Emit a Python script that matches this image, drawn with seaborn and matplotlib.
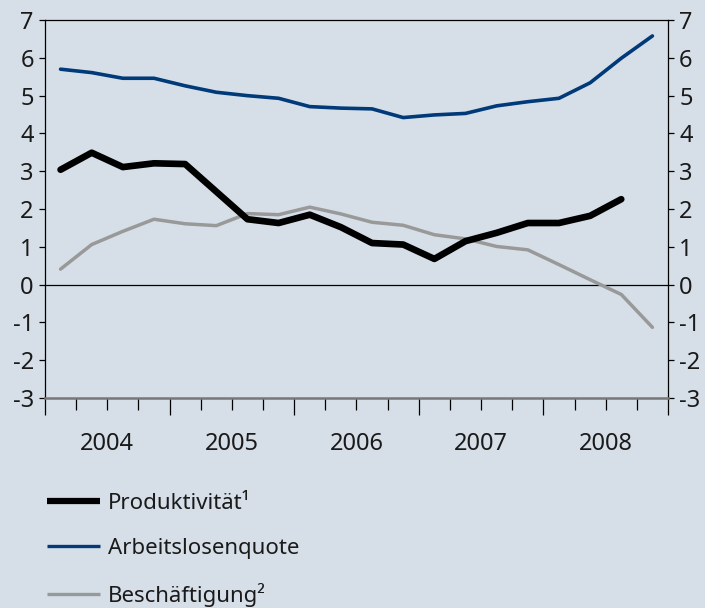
import numpy as np
import pandas as pd
import seaborn as sns
import matplotlib.pyplot as plt
from matplotlib.lines import Line2D
from matplotlib.ticker import MultipleLocator, NullFormatter

# Quarterly data 2004 Q1 - 2008 Q4
years = ['2004', '2005', '2006', '2007', '2008']
quarters = np.arange(20) + 0.5

arbeitslosenquote = [5.70, 5.61, 5.46, 5.46, 5.26, 5.09, 5.00, 4.93, 4.71, 4.67,
                     4.65, 4.42, 4.49, 4.53, 4.73, 4.84, 4.93, 5.34, 5.99, 6.58]
produktivitaet = [3.04, 3.49, 3.11, 3.21, 3.19, 2.46, 1.73, 1.63, 1.85, 1.52,
                  1.10, 1.06, 0.68, 1.15, 1.37, 1.63, 1.63, 1.82, 2.26, np.nan]
beschaeftigung = [0.41, 1.06, 1.41, 1.73, 1.61, 1.56, 1.88, 1.85, 2.05, 1.87,
                  1.65, 1.57, 1.32, 1.21, 1.01, 0.92, 0.53, 0.13, -0.26, -1.13]

bg = '#d6dfe8'
blue = '#003a78'
grey = '#999999'

sns.set_theme(style='ticks', rc={'figure.facecolor': bg, 'axes.facecolor': bg,
                                 'axes.unicode_minus': False})
plt.rcParams['font.family'] = ['Noto Sans', 'DejaVu Sans']

df = pd.DataFrame({'q': quarters, 'Arbeitslosenquote': arbeitslosenquote,
                   'Produktivität': produktivitaet, 'Beschäftigung': beschaeftigung})

fig = plt.figure(figsize=(7.05, 6.08), dpi=100)
ax = fig.add_axes([0.0638, 0.3454, 0.8837, 0.6216])

sns.lineplot(data=df, x='q', y='Beschäftigung', ax=ax, color=grey, lw=2.5)
sns.lineplot(data=df, x='q', y='Arbeitslosenquote', ax=ax, color=blue, lw=2.6)
sns.lineplot(data=df, x='q', y='Produktivität', ax=ax, color='black', lw=4.8)
ax.axhline(0, color='black', lw=0.9, zorder=1)

ax.set_xlim(0, 20)
ax.set_ylim(-3, 7)
ax.set_xlabel('')
ax.set_ylabel('')

# y axis on both sides
ax.yaxis.set_major_locator(MultipleLocator(1))
ax.tick_params(axis='y', which='both', left=True, right=True, labelleft=True,
               labelright=True, length=4.5, width=0.9, color='black',
               labelsize=17, pad=3.5, labelcolor='#1a1a1a')

# x axis: long ticks at year boundaries, short ticks per quarter
ax.xaxis.set_major_locator(MultipleLocator(4))
ax.xaxis.set_minor_locator(MultipleLocator(1))
ax.xaxis.set_major_formatter(NullFormatter())
ax.tick_params(axis='x', which='major', length=12.5, width=0.9, color='black')
ax.tick_params(axis='x', which='minor', length=8.5, width=0.9, color='black')
for i, y in enumerate(years):
    ax.text(4 * i + 2, -0.122, y, transform=ax.get_xaxis_transform(),
            ha='center', va='center', fontsize=17, color='#1a1a1a')

for s in ['left', 'right', 'top']:
    ax.spines[s].set_visible(True)
    ax.spines[s].set_color('black')
    ax.spines[s].set_linewidth(0.9)
ax.spines['bottom'].set_color('#777777')
ax.spines['bottom'].set_linewidth(1.8)

handles = [Line2D([], [], color='black', lw=4.5, solid_capstyle='butt'),
           Line2D([], [], color=blue, lw=2.4, solid_capstyle='butt'),
           Line2D([], [], color=grey, lw=2.4, solid_capstyle='butt')]
labels = ['Produktivität¹', 'Arbeitslosenquote', 'Beschäftigung²']
fig.legend(handles, labels, loc='upper left', bbox_to_anchor=(0.038, 0.222),
           frameon=False, fontsize=16, handlelength=2.4, handletextpad=0.35,
           labelspacing=1.07, labelcolor='#1a1a1a')

fig.savefig('out.png', dpi=100, facecolor=bg)
